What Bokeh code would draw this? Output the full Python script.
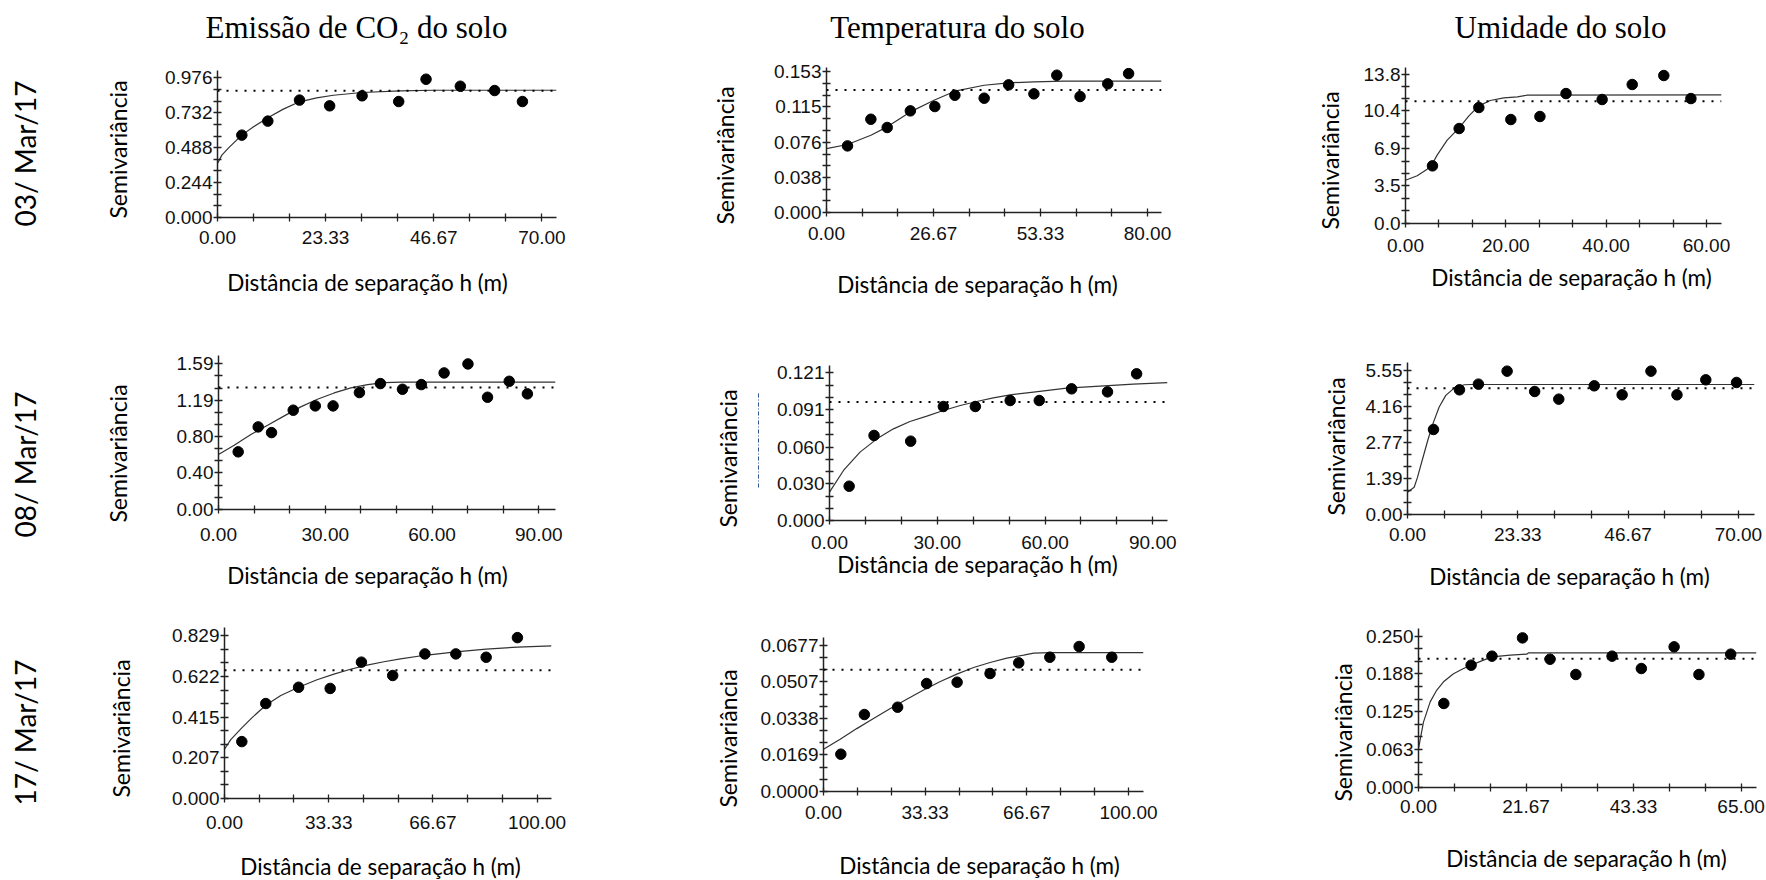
from math import pi
from bokeh.plotting import figure
from bokeh.models import Range1d, FixedTicker, Span, PrintfTickFormatter, Spacer
from bokeh.layouts import row, column
from bokeh.core.properties import value
from bokeh.embed import file_html
from bokeh.resources import INLINE

# ---------------- texts ----------------
col_titles = ["Emissão de CO₂ do solo", "Temperatura do solo", "Umidade do solo"]
row_dates = ["03/ Mar/17", "08/ Mar/17", "17/ Mar/17"]
y_title = "Semivariância"
x_title = "Distância de separação h (m)"

# ---------------- data ----------------
# 03/Mar/17 - CO2
p1_h = [5.25, 10.86, 17.7, 24.2, 31.2, 39.1, 45.0, 52.4, 59.8, 65.8]
p1_g = [0.576, 0.674, 0.821, 0.781, 0.851, 0.811, 0.967, 0.918, 0.888, 0.811]
p1_mh = [0, 0.94, 2.5, 5.25, 7.77, 10.86, 14.2, 17.7, 21.4, 25.0, 31.2, 39.4, 46.6, 73.15]
p1_mg = [0.378, 0.436, 0.49, 0.576, 0.634, 0.697, 0.758, 0.809, 0.837, 0.855, 0.874, 0.886, 0.890, 0.890]
p1_var = 0.886
p1_xticks = ["0.00", "23.33", "46.67", "70.00"]
p1_yticks = ["0.000", "0.244", "0.488", "0.732", "0.976"]

# 03/Mar/17 - Temperatura
p2_h = [5.24, 11.06, 15.13, 20.9, 27.0, 32.0, 39.3, 45.4, 51.7, 57.4, 63.2, 70.1, 75.3]
p2_g = [0.0725, 0.1015, 0.0925, 0.1106, 0.1153, 0.1276, 0.1244, 0.1389, 0.1291, 0.1494, 0.1262, 0.1400, 0.1512]
p2_mh = [0, 5.24, 11.06, 15.13, 20.9, 26.8, 32.0, 39.3, 45.4, 51.7, 59.2, 83.5]
p2_mg = [0.0696, 0.0740, 0.0841, 0.0932, 0.1095, 0.1222, 0.1320, 0.1385, 0.1411, 0.1422, 0.1429, 0.1429]
p2_var = 0.1334
p2_xticks = ["0.00", "26.67", "53.33", "80.00"]
p2_yticks = ["0.000", "0.038", "0.076", "0.115", "0.153"]

# 03/Mar/17 - Umidade
p3_h = [5.38, 10.70, 14.62, 21.0, 26.8, 32.0, 39.2, 45.2, 51.5, 56.9]
p3_g = [5.33, 8.78, 10.72, 9.61, 9.89, 12.01, 11.46, 12.85, 13.68, 11.55]
p3_mh = [0, 2.33, 4.32, 5.38, 6.31, 8.31, 10.70, 12.6, 14.62, 16.9, 19.6, 22.3, 24.3, 63.0]
p3_mg = [4.00, 4.41, 5.02, 5.55, 6.32, 7.70, 8.84, 9.92, 10.87, 11.37, 11.61, 11.71, 11.86, 11.89]
p3_var = 11.31
p3_xticks = ["0.00", "20.00", "40.00", "60.00"]
p3_yticks = ["0.0", "3.5", "6.9", "10.4", "13.8"]

# 08/Mar/17 - CO2
p4_h = [5.53, 11.15, 14.9, 21.0, 27.2, 32.2, 39.6, 45.5, 51.7, 57.0, 63.4, 70.1, 75.6, 81.7, 86.8]
p4_g = [0.628, 0.900, 0.838, 1.082, 1.129, 1.129, 1.274, 1.372, 1.310, 1.361, 1.488, 1.586, 1.223, 1.397, 1.260]
p4_mh = [0, 4.4, 9.1, 13.8, 18.5, 23.1, 27.8, 32.5, 37.2, 41.9, 46.6, 51.3, 94.7]
p4_mg = [0.599, 0.700, 0.817, 0.918, 1.020, 1.118, 1.201, 1.270, 1.325, 1.361, 1.383, 1.387, 1.387]
p4_var = 1.328
p4_xticks = ["0.00", "30.00", "60.00", "90.00"]
p4_yticks = ["0.00", "0.40", "0.80", "1.19", "1.59"]

# 08/Mar/17 - Temperatura
p5_h = [5.47, 12.4, 22.6, 31.7, 40.6, 50.3, 58.4, 67.4, 77.4, 85.5]
p5_g = [0.0281, 0.0697, 0.0650, 0.0934, 0.0934, 0.0983, 0.0983, 0.1079, 0.1054, 0.1202]
p5_mh = [0, 3.9, 8.5, 13.2, 17.8, 22.4, 27.1, 31.7, 36.4, 41.0, 45.6, 50.3, 56.8, 66.0, 75.3, 84.6, 94.1]
p5_mg = [0.0232, 0.041, 0.056, 0.0669, 0.0751, 0.0811, 0.0855, 0.0901, 0.0942, 0.0975, 0.1005, 0.1030, 0.1052, 0.1084, 0.1101, 0.1117, 0.1130]
p5_var = 0.0970
p5_xticks = ["0.00", "30.00", "60.00", "90.00"]
p5_yticks = ["0.000", "0.030", "0.060", "0.091", "0.121"]

# 08/Mar/17 - Umidade
p6_h = [5.50, 10.99, 15.0, 21.07, 26.9, 32.0, 39.5, 45.4, 51.5, 57.0, 63.1, 69.6]
p6_g = [3.276, 4.805, 5.023, 5.524, 4.740, 4.445, 4.959, 4.612, 5.524, 4.612, 5.190, 5.087]
p6_mh = [0, 1.41, 2.11, 3.17, 4.37, 5.5, 6.7, 8.1, 9.87, 12.0, 13.4, 73.4]
p6_mg = [0.86, 1.05, 1.43, 2.13, 2.91, 3.56, 4.14, 4.59, 4.87, 5.00, 5.01, 5.01]
p6_var = 4.869
p6_xticks = ["0.00", "23.33", "46.67", "70.00"]
p6_yticks = ["0.00", "1.39", "2.77", "4.16", "5.55"]

# 17/Mar/17 - CO2
p7_h = [5.54, 13.2, 23.7, 33.8, 43.8, 53.8, 64.1, 74.0, 83.7, 93.7]
p7_g = [0.290, 0.484, 0.567, 0.561, 0.695, 0.627, 0.737, 0.737, 0.720, 0.820]
p7_mh = [0, 2.0, 5.54, 9.0, 13.2, 18.0, 23.7, 29.6, 35.0, 40.3, 45.6, 51.0, 56.3, 64.1, 74.0, 83.7, 93.7, 104.6]
p7_mg = [0.251, 0.300, 0.360, 0.415, 0.475, 0.525, 0.567, 0.605, 0.634, 0.659, 0.680, 0.697, 0.712, 0.730, 0.747, 0.761, 0.772, 0.778]
p7_var = 0.654
p7_xticks = ["0.00", "33.33", "66.67", "100.00"]
p7_yticks = ["0.000", "0.207", "0.415", "0.622", "0.829"]

# 17/Mar/17 - Temperatura
p8_h = [5.68, 13.4, 24.3, 33.8, 43.8, 54.6, 64.0, 74.2, 83.8, 94.5]
p8_g = [0.01727, 0.03562, 0.03901, 0.04996, 0.05058, 0.05459, 0.05952, 0.06214, 0.06708, 0.06214]
p8_mh = [0, 5.46, 10.9, 16.4, 21.9, 27.3, 32.8, 38.3, 43.7, 49.2, 54.6, 60.1, 65.6, 68.9, 74.3, 104.9]
p8_mg = [0.01958, 0.0242, 0.0291, 0.0338, 0.0384, 0.0427, 0.0470, 0.0509, 0.0543, 0.0574, 0.0597, 0.0617, 0.0631, 0.0640, 0.0643, 0.0643]
p8_var = 0.05628
p8_xticks = ["0.00", "33.33", "66.67", "100.00"]
p8_yticks = ["0.0000", "0.0169", "0.0338", "0.0507", "0.0677"]

# 17/Mar/17 - Umidade
p9_h = [5.10, 10.6, 14.8, 20.95, 26.5, 31.7, 39.0, 44.9, 51.5, 56.5, 62.9]
p9_g = [0.1388, 0.2021, 0.2170, 0.2472, 0.2120, 0.1867, 0.2170, 0.1966, 0.2324, 0.1867, 0.2203]
p9_mh = [0, 1.0, 2.35, 3.69, 5.04, 7.05, 9.07, 10.6, 13.1, 14.8, 18.5, 21.8, 22.2, 68.1]
p9_mg = [0.0644, 0.108, 0.1415, 0.161, 0.1746, 0.188, 0.1966, 0.2021, 0.2104, 0.2159, 0.2186, 0.2203, 0.2225, 0.2225]
p9_var = 0.2126
p9_xticks = ["0.00", "21.67", "43.33", "65.00"]
p9_yticks = ["0.000", "0.063", "0.125", "0.188", "0.250"]

# axis extents (data units at the end of each axis line)
x_ends = [73.15, 83.5, 63.0, 94.7, 94.1, 73.4, 104.6, 104.9, 68.1]
y_ends = [1.028, 0.1578, 14.42, 1.678, 0.127, 5.857, 0.8716, 0.07126, 0.2627]

panels = [
    (p1_h, p1_g, p1_mh, p1_mg, p1_var, p1_xticks, p1_yticks),
    (p2_h, p2_g, p2_mh, p2_mg, p2_var, p2_xticks, p2_yticks),
    (p3_h, p3_g, p3_mh, p3_mg, p3_var, p3_xticks, p3_yticks),
    (p4_h, p4_g, p4_mh, p4_mg, p4_var, p4_xticks, p4_yticks),
    (p5_h, p5_g, p5_mh, p5_mg, p5_var, p5_xticks, p5_yticks),
    (p6_h, p6_g, p6_mh, p6_mg, p6_var, p6_xticks, p6_yticks),
    (p7_h, p7_g, p7_mh, p7_mg, p7_var, p7_xticks, p7_yticks),
    (p8_h, p8_g, p8_mh, p8_mg, p8_var, p8_xticks, p8_yticks),
    (p9_h, p9_g, p9_mh, p9_mg, p9_var, p9_xticks, p9_yticks),
]

# ---------------- layout geometry (page pixels) ----------------
col_x0 = [0, 600, 1210]
col_x1 = [600, 1210, 1766]
row_y0 = [0, 300, 590]
row_y1 = [300, 590, 880]
frames = [  # left, top, right, bottom
    (217, 70, 556, 217), (826, 67, 1161, 212), (1405, 67, 1721, 223),
    (218, 355, 555, 509), (829, 365, 1167, 520), (1407, 362, 1754, 514),
    (224, 627, 551, 798), (823, 637, 1143, 791), (1418, 628, 1756, 787),
]
AL = [58, 58, 52, 56, 58, 52, 58, 66, 58]   # room left of each frame for tick labels
AT = 8                                      # room above each frame
AB = [41, 44, 37, 45, 31, 40, 47, 48, 43]   # room below each frame for tick labels
ylab_pos = [(117, 149), (724, 155), (1329, 160), (117, 453), (727, 458), (1335, 446),
            (120, 728), (727, 738), (1342, 732)]          # centre x, centre y
xlab_pos = [(367, 282), (977, 284), (1571, 277), (367, 575), (977, 564), (1569, 576),
            (380, 866), (979, 865), (1586, 858)]          # centre x, centre y
xstand = [9, 10, 11, 14, 11, 9, 13, 10, 8]
title_pos = [(356, 27), (957, 27), (1560, 27)]
date_pos = [(24, 153), (24, 464), (24, 732)]
artifact = (758, 393, 487)   # stray dash-dot stroke left of the 08/Mar temperature panel

INK = "#222222"


def minors(vals):
    out = []
    for a, b in zip(vals[:-1], vals[1:]):
        out += [a + (b - a) / 3.0, a + 2 * (b - a) / 3.0]
    return out


def decimals(s):
    return len(s.split(".")[1]) if "." in s else 0


def no_align(f):
    try:
        f.frame_align = False
    except Exception:
        pass


def text_fig(x0, y0, x1, y1):
    f = figure(width=x1 - x0, height=y1 - y0, x_range=Range1d(0, x1 - x0),
               y_range=Range1d(0, y1 - y0), min_border=0, x_axis_type=None,
               y_axis_type=None, output_backend="svg", toolbar_location=None, tools="")
    f.outline_line_color = None
    f.background_fill_color = "white"
    f.border_fill_color = "white"
    no_align(f)
    f._box = (x0, y0, x1, y1)
    return f


def put_text(f, X, Y, text, font, size, angle=0.0):
    x0, y0, x1, y1 = f._box
    f.text(x=[X - x0], y=[y1 - Y], text=[text], angle=angle, text_align="center",
           text_baseline="middle", text_font=value(font), text_font_size=size,
           text_color="black")


cells = []
for i, (h, g, mh, mg, var, xt, yt) in enumerate(panels):
    r, c = divmod(i, 3)
    fl, ft, fr, fb = frames[i]
    cx0, cx1, ry0, ry1 = col_x0[c], col_x1[c], row_y0[r], row_y1[r]
    p = figure(frame_width=fr - fl, frame_height=fb - ft,
               min_border_left=AL[i], min_border_right=cx1 - fr,
               min_border_top=AT, min_border_bottom=AB[i],
               x_range=Range1d(0, x_ends[i]), y_range=Range1d(0, y_ends[i]),
               output_backend="svg", toolbar_location=None, tools="")
    no_align(p)
    p.outline_line_color = None
    p.grid.visible = False
    p.background_fill_color = "white"
    p.border_fill_color = "white"

    xv = [float(s) for s in xt]
    yv = [float(s) for s in yt]
    p.xaxis.ticker = FixedTicker(ticks=xv, minor_ticks=minors(xv))
    p.yaxis.ticker = FixedTicker(ticks=yv, minor_ticks=minors(yv))
    p.xaxis.formatter = PrintfTickFormatter(format="%%.%df" % decimals(xt[0]))
    p.yaxis.formatter = PrintfTickFormatter(format="%%.%df" % decimals(yt[0]))
    for ax in (p.xaxis[0], p.yaxis[0]):
        ax.axis_line_color = INK
        ax.axis_line_width = 1.5
        ax.major_tick_line_color = INK
        ax.minor_tick_line_color = INK
        ax.major_tick_line_width = 1.3
        ax.minor_tick_line_width = 1.3
        ax.major_tick_in = 4
        ax.major_tick_out = 4
        ax.minor_tick_in = 4
        ax.minor_tick_out = 4
        ax.major_label_text_font = "Liberation Sans"
        ax.major_label_text_font_size = "19px"
        ax.major_label_text_color = "#111111"
    p.yaxis.major_label_standoff = 1
    p.xaxis.major_label_standoff = xstand[i]

    p.add_layout(Span(location=var, dimension="width", line_color="black",
                      line_dash="2 7", line_width=2))
    p.line(mh, mg, line_color="#333333", line_width=1.2)
    p.scatter(h, g, size=10.5, color="black")

    # text areas around the panel
    left = text_fig(cx0, ft - AT, fl - AL[i], fb + AB[i])
    yx, yy = ylab_pos[i]
    put_text(left, yx, yy, y_title, "Lato", "23px", angle=pi / 2)
    if c == 0:
        dx, dy = date_pos[r]
        put_text(left, dx, dy, row_dates[r], "Lato", "28px", angle=pi / 2)
    if i == 4:
        ax_, ya, yb = artifact
        lx0, ly0, lx1, ly1 = left._box
        left.line(x=[ax_ - lx0, ax_ - lx0], y=[ly1 - ya, ly1 - yb], line_color="#2f5597",
                  line_dash="4 2 1 2", line_width=1)

    bottom = text_fig(cx0, fb + AB[i], cx1, ry1)
    xx, xy = xlab_pos[i]
    put_text(bottom, xx, xy, x_title, "Lato", "22.5px")

    if r == 0:
        top = text_fig(cx0, ry0, cx1, ft - AT)
        tx, ty = title_pos[c]
        put_text(top, tx, ty, col_titles[c], "Liberation Serif", "31px")
    else:
        top = Spacer(width=cx1 - cx0, height=ft - AT - ry0)

    cells.append(column(top, row(left, p), bottom))

layout = column(row(*cells[0:3]), row(*cells[3:6]), row(*cells[6:9]))
open("out.html", "w").write(file_html(layout, INLINE))
